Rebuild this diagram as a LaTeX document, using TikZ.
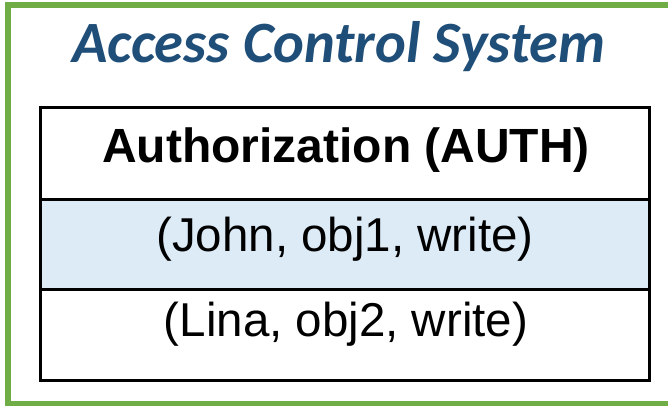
\documentclass[tikz,border=0pt]{standalone}
\usepackage{fontspec}
\setmainfont{Liberation Sans}
\newfontfamily\titlefont{Carlito}
\definecolor{titleblue}{HTML}{1F4E79}
\definecolor{framegreen}{HTML}{70AD47}
\definecolor{rowblue}{HTML}{DDEBF7}
\tikzset{
  cellbox/.style={draw=black, line width=3pt, minimum width=609pt, inner sep=0pt, anchor=north},
  celltext/.style={anchor=base, inner sep=0pt, font=\fontsize{47.5}{50}\selectfont},
}
\begin{document}
\begin{tikzpicture}[x=1pt,y=-1pt]
\useasboundingbox (0,0) rectangle (668,406);
\fill[white] (0,0) rectangle (668,406);
\draw[framegreen, line width=6pt] (8,5) rectangle (672,404);
\node[anchor=base, inner sep=0pt, text=titleblue, font=\titlefont\bfseries\itshape\fontsize{58.5}{60}\selectfont] (title) at (339,63) {Access Control System};
\node[cellbox, minimum height=92pt] (hdr) at (344.5,106) {};
\node[cellbox, minimum height=90pt, fill=rowblue] (row1) at (344.5,198) {};
\node[cellbox, minimum height=91pt] (row2) at (344.5,288) {};
\node[celltext, font=\bfseries\fontsize{48}{50}\selectfont] (hdrtext) at (346,162) {Authorization (AUTH)};
\node[celltext] (row1text) at (345,251.5) {(John, obj1, write)};
\node[celltext] (row2text) at (346,336.5) {(Lina, obj2, write)};
\end{tikzpicture}
\end{document}
